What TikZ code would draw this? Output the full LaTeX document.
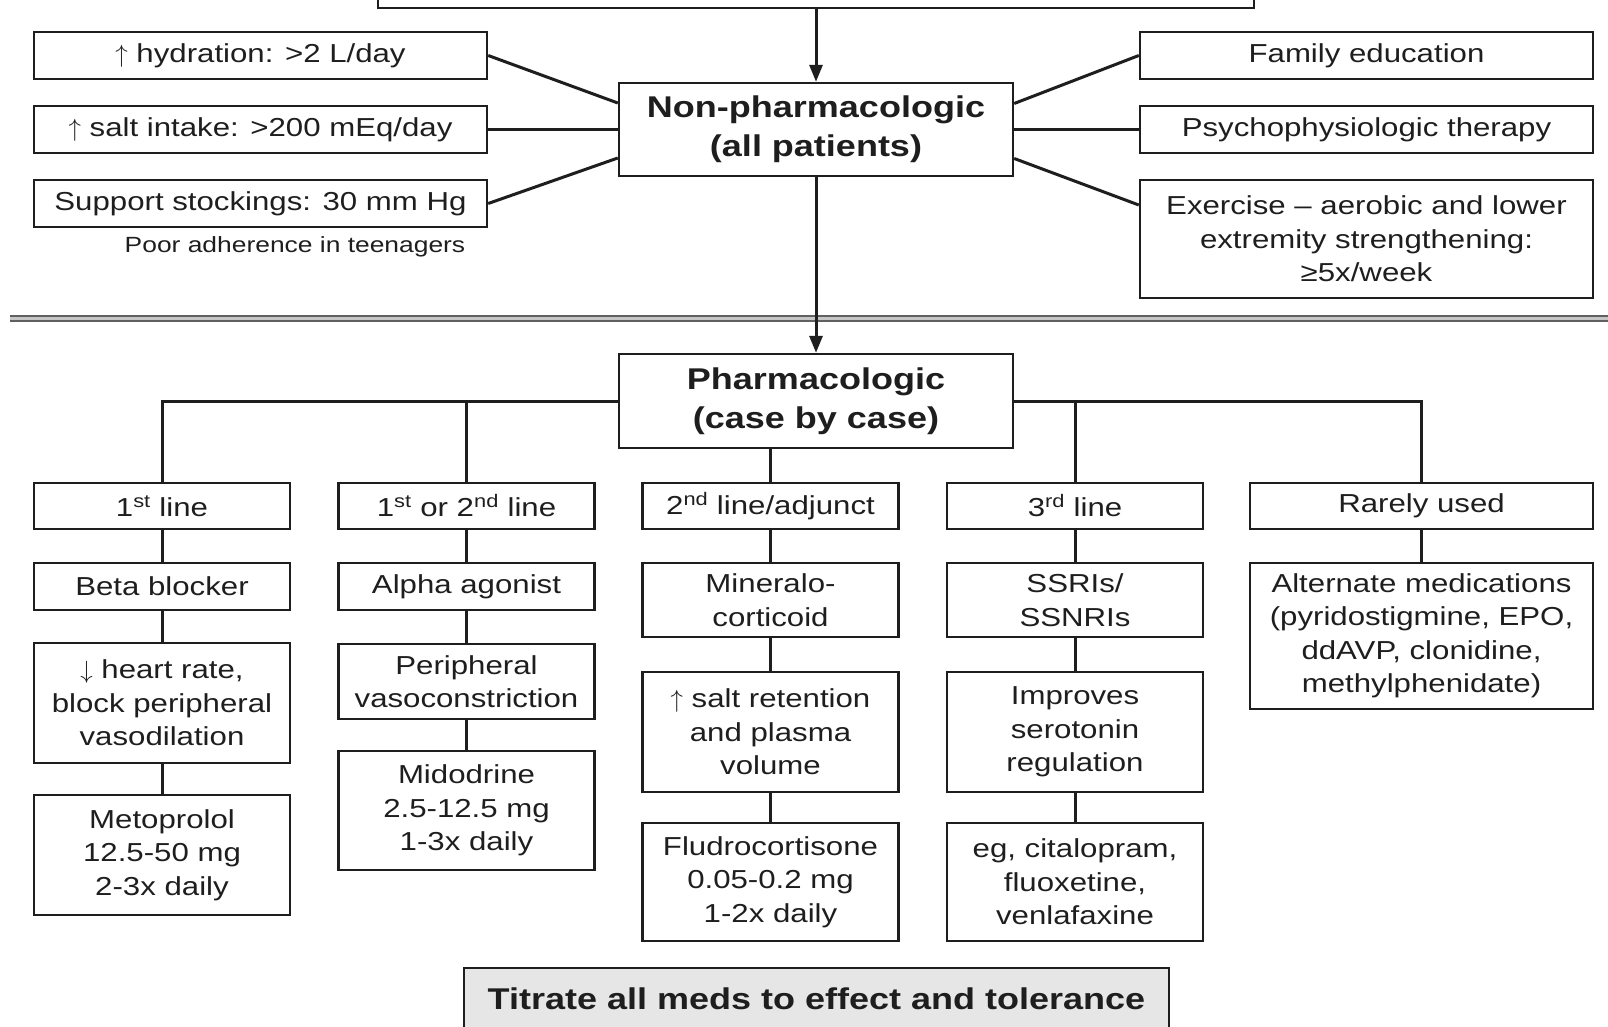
\documentclass[tikz,border=0pt]{standalone}
\usepackage{fontspec}
\setmainfont{Liberation Sans}[FakeStretch=1.2]
\usetikzlibrary{arrows.meta,calc}
\definecolor{ink}{HTML}{1E1E1E}
\definecolor{tbox}{HTML}{E6E6E6}
\newcommand\mynf{\fontsize{26}{33.5}\selectfont}
\newcommand\mybf{\fontsize{30}{39}\selectfont\bfseries}
\newcommand\mysm{\fontsize{22}{26}\selectfont}
\newcommand\myup{$\uparrow$}
\newcommand\mydown{$\downarrow$}
\begin{document}
\begin{tikzpicture}[x=1pt,y=-1pt,
  box/.style={draw=ink, line width=2.4pt, inner sep=0pt, align=center, text=ink, font=\mynf},
  lbox/.style={minimum width=453pt, minimum height=47pt},
  cbox/.style={minimum width=256pt},
  conn/.style={draw=ink, line width=3pt},
  arr/.style={conn, -{Triangle[length=17pt,width=13pt]}},
]
\useasboundingbox (0,0) rectangle (1608,1026);

% top (cut off) box
\node[box, minimum width=876pt, minimum height=48pt] (top) at (816,-16) {};

% non-pharmacologic
\node[box, minimum width=394pt, minimum height=93pt, font=\mybf] (np) at (816,129.5) {Non-pharmacologic\\(all patients)};

\node[box, lbox] (hyd) at (260.5,55.5) {\myup{} hydration: >2 L/day};
\node[box, lbox] (salt) at (260.5,129.5) {\myup{} salt intake: >200 mEq/day};
\node[box, lbox] (stock) at (260.5,203.5) {Support stockings: 30 mm Hg};
\node[text=ink, font=\mysm, inner sep=0pt] (poor) at (295,247) {Poor adherence in teenagers};

\node[box, lbox] (fam) at (1366.5,55.5) {Family education};
\node[box, lbox] (psy) at (1366.5,129.5) {Psychophysiologic therapy};
\node[box, minimum width=453pt, minimum height=118pt] (exer) at (1366.5,239) {Exercise – aerobic and lower\\extremity strengthening:\\≥5x/week};

\draw[arr] (top.south) -- (np.north);
\draw[conn] (hyd.east) -- ([yshift=26.5pt]np.west);
\draw[conn] (salt.east) -- (np.west);
\draw[conn] (stock.east) -- ([yshift=-28.5pt]np.west);
\draw[conn] ([yshift=26pt]np.east) -- (fam.west);
\draw[conn] (np.east) -- (psy.west);
\draw[conn] ([yshift=-29pt]np.east) -- ([yshift=34pt]exer.west);

% separator
\coordinate (sepL) at (10,318.5);
\coordinate (sepR) at (1608,318.5);
\draw[draw=gray!75!black, line width=2pt, double=gray!45, double distance=3pt] (sepL) -- (sepR);

% pharmacologic
\node[box, minimum width=394pt, minimum height=94pt, font=\mybf] (ph) at (816,401) {Pharmacologic\\(case by case)};
\draw[arr] (np.south) -- (ph.north);

% headers
\node[box, cbox, minimum height=46pt] (h1) at (162,506) {1\textsuperscript{st} line};
\node[box, cbox, minimum height=46pt] (h2) at (466.5,506) {1\textsuperscript{st} or 2\textsuperscript{nd} line};
\node[box, cbox, minimum height=46pt] (h3) at (770.5,506) {2\textsuperscript{nd} line/adjunct};
\node[box, cbox, minimum height=46pt] (h4) at (1075,506) {3\textsuperscript{rd} line};
\node[box, minimum width=343pt, minimum height=46pt] (h5) at (1421.5,506) {Rarely used};

\draw[conn] (h1.north) |- (ph.west);
\draw[conn] (h5.north) |- (ph.east);
\draw[conn] (h2.north) -- (h2.north |- ph.west);
\draw[conn] (h4.north) -- (h4.north |- ph.east);
\draw[conn] (ph.south -| h3.north) -- (h3.north);

% column 1
\node[box, cbox, minimum height=47pt] (bb) at (162,586.5) {Beta blocker};
\node[box, cbox, minimum height=120pt] (hr) at (162,703) {\mydown{} heart rate,\\block peripheral\\vasodilation};
\node[box, cbox, minimum height=120pt] (met) at (162,855) {Metoprolol\\12.5-50 mg\\2-3x daily};
\draw[conn] (h1.south) -- (bb.north);
\draw[conn] (bb.south) -- (hr.north);
\draw[conn] (hr.south) -- (met.north);

% column 2
\node[box, cbox, minimum height=47pt] (aa) at (466.5,586.5) {Alpha agonist};
\node[box, cbox, minimum height=75pt] (pv) at (466.5,681.5) {Peripheral\\vasoconstriction};
\node[box, cbox, minimum height=119pt] (mid) at (466.5,810.5) {Midodrine\\2.5-12.5 mg\\1-3x daily};
\draw[conn] (h2.south) -- (aa.north);
\draw[conn] (aa.south) -- (pv.north);
\draw[conn] (pv.south) -- (mid.north);

% column 3
\node[box, cbox, minimum height=74pt] (min) at (770.5,600) {Mineralo-\\corticoid};
\node[box, cbox, minimum height=120pt] (sr) at (770.5,732) {\myup{} salt retention\\and plasma\\volume};
\node[box, cbox, minimum height=118pt] (flu) at (770.5,882) {Fludrocortisone\\0.05-0.2 mg\\1-2x daily};
\draw[conn] (h3.south) -- (min.north);
\draw[conn] (min.south) -- (sr.north);
\draw[conn] (sr.south) -- (flu.north);

% column 4
\node[box, cbox, minimum height=74pt] (ssri) at (1075,600) {SSRIs/\\SSNRIs};
\node[box, cbox, minimum height=120pt] (imp) at (1075,732) {Improves\\serotonin\\regulation};
\node[box, cbox, minimum height=118pt] (eg) at (1075,882) {eg, citalopram,\\fluoxetine,\\venlafaxine};
\draw[conn] (h4.south) -- (ssri.north);
\draw[conn] (ssri.south) -- (imp.north);
\draw[conn] (imp.south) -- (eg.north);

% column 5
\node[box, minimum width=343pt, minimum height=146pt] (alt) at (1421.5,636) {Alternate medications\\(pyridostigmine, EPO,\\ddAVP, clonidine,\\methylphenidate)};
\draw[conn] (h5.south) -- (alt.north);

% bottom
\node[box, fill=tbox, minimum width=705pt, minimum height=62pt, font=\mybf] (tit) at (816.5,999) {Titrate all meds to effect and tolerance};
\end{tikzpicture}
\end{document}
